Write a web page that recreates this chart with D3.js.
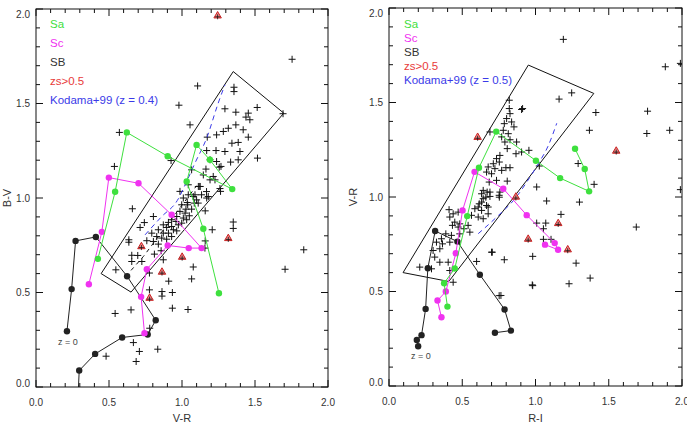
<!DOCTYPE html>
<html>
<head>
<meta charset="utf-8">
<script src="https://cdn.jsdelivr.net/npm/d3@7"></script>
<style>
body { margin: 0; background: #fff; }
svg { font-family: "Liberation Sans", Arial, Helvetica, sans-serif; }
</style>
</head>
<body>
<div id="graphContainer"></div>
<script>
// ---- left panel: V-R vs B-V ----
const leftSa = [[0.424,0.678],[0.542,1.033],[0.622,1.347],[0.902,1.221],[1.344,1.047],[1.191,1.202],[1.100,1.281],[1.032,1.087],[1.146,0.837],[1.253,0.496]];
const leftSc = [[0.362,0.544],[0.451,0.821],[0.499,1.108],[0.702,1.078],[0.929,0.911],[1.134,0.735],[1.046,0.735],[0.902,0.749],[0.759,0.623],[0.720,0.477],[0.743,0.285]];
const leftSB = [[0.285,-0.10],[0.296,0.087],[0.405,0.175],[0.590,0.262],[0.765,0.278],[0.820,0.353],[0.624,0.586],[0.410,0.794],[0.271,0.773],[0.244,0.518],[0.212,0.295]];
const leftZs = [[1.244,1.964],[0.722,0.743],[1.001,0.687],[0.863,0.608],[0.778,0.470],[1.317,0.786]];
const leftKodama = [[0.747,0.805],[0.861,0.902],[0.968,0.987],[1.032,1.087],[1.089,1.185],[1.169,1.317],[1.248,1.502],[1.294,1.599]];
const leftFit = [[0.651,0.617],[0.736,0.691],[1.100,1.065]];
const leftBox = [[0.446,0.600],[1.351,1.669],[1.697,1.449],[0.651,0.502]];
const leftCross = [
  [1.754,1.734],[1.107,1.593],[0.979,1.491],[1.055,1.387],[0.571,1.347],[0.537,1.167],[0.925,1.198],[1.517,1.211],
  [1.515,1.479],[1.692,1.446],[1.834,0.726],[1.706,0.623],[1.351,0.873],[1.351,0.839],[1.207,0.832],[1.260,1.050],
  [0.660,0.943],[0.542,0.389],[0.651,0.408],[0.667,0.235],[0.480,0.163],[0.708,0.188],[0.686,0.135],[0.834,0.200],
  [0.779,0.311],[0.934,0.417],[1.041,0.410],[0.934,0.500],[0.863,0.505],[0.863,0.481],[0.909,0.560],[1.066,0.572],
  [1.077,0.635],[0.872,0.673],[1.157,0.735],[1.159,0.773],[0.777,0.514],[0.777,0.603],[0.547,0.620],
  [0.636,0.779],[0.636,0.766],[0.656,0.697],[0.697,0.696],[0.656,0.664],[0.725,0.664],[0.713,0.844],[0.742,0.870],
  [0.759,0.774],[0.838,0.756],[0.857,0.721],[0.811,0.703],[0.804,0.902],[1.159,0.932],[1.264,1.035],
  [0.986,1.035],[1.043,1.017],[1.009,1.000],[1.089,1.017],[1.123,1.061],[1.134,1.017],[1.169,1.000],[0.998,0.964],
  [1.036,0.976],[1.084,0.973],[1.027,0.941],[1.066,0.941],[0.986,0.929],[1.021,0.920],[1.050,0.906],[0.964,0.902],
  [1.009,0.894],[0.929,0.885],[0.959,0.876],[0.907,0.871],[0.872,0.858],[0.838,0.832],[0.895,0.844],[0.929,0.849],
  [0.975,0.858],[0.941,0.832],[0.872,0.814],[0.907,0.814],[0.964,0.826],[0.827,0.796],[0.861,0.788],[0.895,0.782],
  [0.929,0.796],[0.998,0.867],[1.032,0.885],[0.793,0.814],[0.804,0.770],
  [1.356,1.586],[1.356,1.563],[1.294,1.472],[1.369,1.454],[1.454,1.449],[1.438,1.428],[1.465,1.414],[1.237,1.334],
  [1.283,1.352],[1.317,1.369],[1.369,1.387],[1.419,1.361],[1.454,1.322],[1.173,1.322],[1.342,1.290],[1.385,1.294],
  [1.233,1.251],[1.294,1.246],[1.169,1.251],[1.397,1.246],[1.192,1.202],[1.237,1.193],[1.267,1.167],[1.333,1.190],
  [1.385,1.202],[1.164,1.153],[1.066,1.149],[1.146,1.122],[1.192,1.096],[1.226,1.096],[1.112,1.061],[1.043,1.070],
  [1.255,1.163],[1.214,1.114],[1.123,1.061],[1.168,1.034],[1.077,1.008],[1.111,0.973],[1.039,0.964],[1.180,1.008],[1.100,0.990]
];

// ---- right panel: R-I vs V-R ----
const rightSa = [[0.399,0.420],[0.376,0.544],[0.449,0.622],[0.534,0.899],[0.614,1.155],[0.732,1.346],[1.003,1.192],[1.168,1.100],[1.366,1.030],[1.336,1.148],[1.270,1.255]];
const rightSc = [[0.358,0.364],[0.331,0.452],[0.388,0.500],[0.456,0.702],[0.502,0.929],[0.584,1.133],[0.780,1.044],[0.940,0.904],[1.131,0.756],[1.154,0.721],[1.065,0.748]];
const rightSB = [[0.199,0.210],[0.190,0.244],[0.222,0.269],[0.250,0.408],[0.265,0.623],[0.315,0.820],[0.467,0.764],[0.620,0.589],[0.789,0.405],[0.832,0.293],[0.723,0.282]];
const rightZs = [[0.605,1.316],[0.866,1.000],[0.950,0.777],[1.155,0.860],[1.220,0.721],[1.551,1.243]];
const rightKodama = [[0.609,0.806],[0.746,0.902],[0.860,0.991],[0.962,1.105],[1.019,1.176],[1.088,1.273],[1.145,1.390]];
const rightBox = [[0.096,0.600],[0.951,1.698],[1.398,1.548],[0.408,0.553]];
const rightCross = [
  [1.190,1.834],[1.886,1.689],[1.989,1.707],[1.247,1.551],[1.161,1.518],[1.412,1.447],[1.765,1.454],[1.760,1.336],
  [1.916,1.353],[1.368,1.353],[0.912,1.468],[0.955,1.247],[1.291,1.177],[1.400,1.067],[1.076,0.979],[1.300,0.973],
  [1.174,0.908],[1.008,0.862],[1.070,0.862],[1.054,0.832],[1.106,0.776],[1.054,0.776],[0.981,0.686],[0.705,0.708],
  [0.787,0.668],[1.277,0.650],[1.373,0.571],[0.978,0.535],[1.229,0.541],[0.764,0.479],[1.688,0.841],[1.989,1.039],
  [1.026,1.164],[0.598,0.659],[1.008,1.053],
  [0.821,1.512],[0.905,1.463],[0.821,1.468],[0.826,1.441],[0.803,1.415],[0.837,1.397],[0.787,1.388],[0.853,1.371],
  [0.689,1.344],[0.780,1.353],[0.814,1.335],[0.769,1.318],[0.826,1.303],[0.791,1.291],[0.871,1.291],[0.807,1.256],
  [0.867,1.229],[0.905,1.238],[0.757,1.220],[0.734,1.203],[0.753,1.185],[0.712,1.176],[0.677,1.159],[0.723,1.150],
  [0.798,1.155],[0.826,1.155],[0.666,1.132],[0.700,1.123],[0.769,1.141],[0.734,1.088],[0.807,1.084],[0.684,1.079],
  [0.643,1.035],[0.689,1.026],[0.757,1.026],[0.661,0.999],[0.753,0.999],[0.632,0.973],[0.609,0.947],[0.677,0.947],
  [0.632,1.017],[0.670,1.026],[0.643,0.991],[0.689,1.003],[0.752,1.009],[0.616,0.964],[0.666,0.955],[0.586,0.938],
  [0.632,0.929],[0.677,0.911],[0.563,0.903],[0.609,0.894],[0.643,0.885],[0.410,0.933],[0.438,0.911],[0.415,0.894],
  [0.472,0.920],[0.449,0.867],[0.483,0.858],[0.433,0.850],[0.472,0.841],[0.511,0.832],[0.388,0.805],[0.426,0.797],
  [0.483,0.805],[0.540,0.850],[0.552,0.814],[0.358,0.779],[0.324,0.761],[0.365,0.752],[0.415,0.761],[0.301,0.717],
  [0.347,0.726],[0.312,0.682],[0.347,0.655],[0.404,0.655],[0.210,0.629],[0.290,0.620],[0.415,0.611],[0.438,0.549],
  [0.700,0.708],[0.752,0.478],[0.981,0.531]
];

const ticksMajor = [0.0, 0.5, 1.0, 1.5, 2.0];
const ticksMinor = d3.range(0, 2.001, 0.1);

const colSa = "#3ee03e", colSc = "#f032f0", colSB = "#222", colZs = "#e83a3a", colKod = "#3a3ae8";

function add() {
  let width = 687, height = 424;
  let svg = d3.select("#graphContainer").append("svg")
    .attr("width", width)
    .attr("height", height);
  return svg;
}

function drawPanel(svg, p) {
  let x = d3.scaleLinear().domain([0, 2]).range([p.x0, p.x1]);
  let y = d3.scaleLinear().domain([0, 2]).range([p.y0, p.y1]);
  let line = d3.line().x(d => x(d[0])).y(d => y(d[1]));

  svg.append("clipPath").attr("id", p.id)
    .append("rect")
    .attr("x", p.x0).attr("y", p.y1)
    .attr("width", p.x1 - p.x0).attr("height", p.y0 - p.y1);

  let g = svg.append("g").attr("clip-path", "url(#" + p.id + ")");

  // crosses
  g.selectAll(null).data(p.cross).enter().append("path")
    .attr("transform", d => "translate(" + x(d[0]) + "," + y(d[1]) + ")")
    .attr("d", "M-3.5,0H3.5M0,-3.5V3.5")
    .attr("stroke", "#111").attr("stroke-width", 1).attr("fill", "none");

  // selection box
  g.append("path").datum(p.box)
    .attr("d", d => line(d) + "Z")
    .attr("fill", "none").attr("stroke", "#111").attr("stroke-width", 1);

  if (p.fit) {
    g.append("path").datum(p.fit)
      .attr("d", line)
      .attr("fill", "none").attr("stroke", "#111").attr("stroke-width", 1)
      .attr("stroke-dasharray", "4,4");
  }
  g.append("path").datum(p.kodama)
    .attr("d", d3.line().curve(d3.curveMonotoneX).x(d => x(d[0])).y(d => y(d[1])))
    .attr("fill", "none").attr("stroke", colKod).attr("stroke-width", 1)
    .attr("stroke-dasharray", "5,4");

  // model tracks
  [[p.sb, colSB], [p.sc, colSc], [p.sa, colSa]].forEach(function (s) {
    g.append("path").datum(s[0]).attr("d", line)
      .attr("fill", "none").attr("stroke", s[1]).attr("stroke-width", 1);
    g.selectAll(null).data(s[0]).enter().append("circle")
      .attr("cx", d => x(d[0])).attr("cy", d => y(d[1]))
      .attr("r", 3.2).attr("fill", s[1]);
  });

  // zs > 0.5 galaxies
  let tri = g.selectAll(null).data(p.zs).enter().append("g")
    .attr("transform", d => "translate(" + x(d[0]) + "," + y(d[1]) + ")");
  tri.append("path").attr("d", d3.symbol(d3.symbolTriangle, 24))
    .attr("fill", "#f08a8a").attr("stroke", "#c82020").attr("stroke-width", 1);
  tri.append("path").attr("d", "M-2.5,1H2.5M0,-1.5V3.5")
    .attr("stroke", "#111").attr("stroke-width", 0.8);

  // frame and ticks
  svg.append("rect").attr("x", p.x0).attr("y", p.y1)
    .attr("width", p.x1 - p.x0).attr("height", p.y0 - p.y1)
    .attr("fill", "none").attr("stroke", "#111").attr("stroke-width", 1);

  let tk = svg.append("g").attr("stroke", "#111").attr("stroke-width", 1);
  ticksMinor.forEach(function (v, i) {
    let len = (i % 5 === 0) ? 7 : 4;
    tk.append("line").attr("x1", x(v)).attr("x2", x(v)).attr("y1", p.y0).attr("y2", p.y0 - len);
    tk.append("line").attr("x1", x(v)).attr("x2", x(v)).attr("y1", p.y1).attr("y2", p.y1 + len);
    tk.append("line").attr("y1", y(v)).attr("y2", y(v)).attr("x1", p.x0).attr("x2", p.x0 + len);
    tk.append("line").attr("y1", y(v)).attr("y2", y(v)).attr("x1", p.x1).attr("x2", p.x1 - len);
  });

  svg.append("g").selectAll(null).data(ticksMajor).enter().append("text")
    .attr("x", d => x(d)).attr("y", p.y0 + 19)
    .attr("text-anchor", "middle").attr("font-size", 10).attr("fill", "#333")
    .text(d => d3.format(".1f")(d));
  svg.append("g").selectAll(null).data(ticksMajor).enter().append("text")
    .attr("x", p.x0 - 6)
    .attr("y", d => Math.min(Math.max(y(d), p.y1 + 5), p.y0 - 4))
    .attr("dy", "0.35em")
    .attr("text-anchor", "end").attr("font-size", 10).attr("fill", "#333")
    .text(d => d3.format(".1f")(d));

  svg.append("text").attr("x", (p.x0 + p.x1) / 2).attr("y", 422)
    .attr("text-anchor", "middle").attr("font-size", 11).attr("fill", "#333")
    .text(p.xTitle);
  svg.append("text")
    .attr("transform", "translate(" + p.yTitleX + "," + ((p.y0 + p.y1) / 2) + ") rotate(-90)")
    .attr("text-anchor", "middle").attr("font-size", 11).attr("fill", "#333")
    .text(p.yTitle);

  // z = 0 label
  svg.append("text").attr("x", x(p.z0[0])).attr("y", y(p.z0[1]))
    .attr("font-size", 9).attr("fill", "#444").text("z = 0");

  // legend
  let leg = [["Sa", colSa], ["Sc", colSc], ["SB", "#333"], ["zs>0.5", colZs], [p.kodLabel, colKod]];
  svg.append("g").selectAll(null).data(leg).enter().append("text")
    .attr("x", p.legX).attr("y", (d, i) => p.legY + i * p.legStep)
    .attr("dy", "0.35em")
    .attr("font-size", 11.5).attr("fill", d => d[1])
    .text(d => d[0]);
}

let svg = add();
drawPanel(svg, {
  id: "clipL", x0: 36, x1: 328, y0: 387, y1: 9,
  cross: leftCross, box: leftBox, fit: leftFit, kodama: leftKodama,
  sa: leftSa, sc: leftSc, sb: leftSB, zs: leftZs,
  xTitle: "V-R", yTitle: "B-V", yTitleX: 11, z0: [0.15, 0.22],
  kodLabel: "Kodama+99 (z = 0.4)", legX: 50, legY: 24, legStep: 19
});
drawPanel(svg, {
  id: "clipR", x0: 389, x1: 682, y0: 386, y1: 8,
  cross: rightCross, box: rightBox, fit: null, kodama: rightKodama,
  sa: rightSa, sc: rightSc, sb: rightSB, zs: rightZs,
  xTitle: "R-I", yTitle: "V-R", yTitleX: 357, z0: [0.15, 0.145],
  kodLabel: "Kodama+99 (z = 0.5)", legX: 404, legY: 23.5, legStep: 14.2
});
</script>
</body>
</html>
